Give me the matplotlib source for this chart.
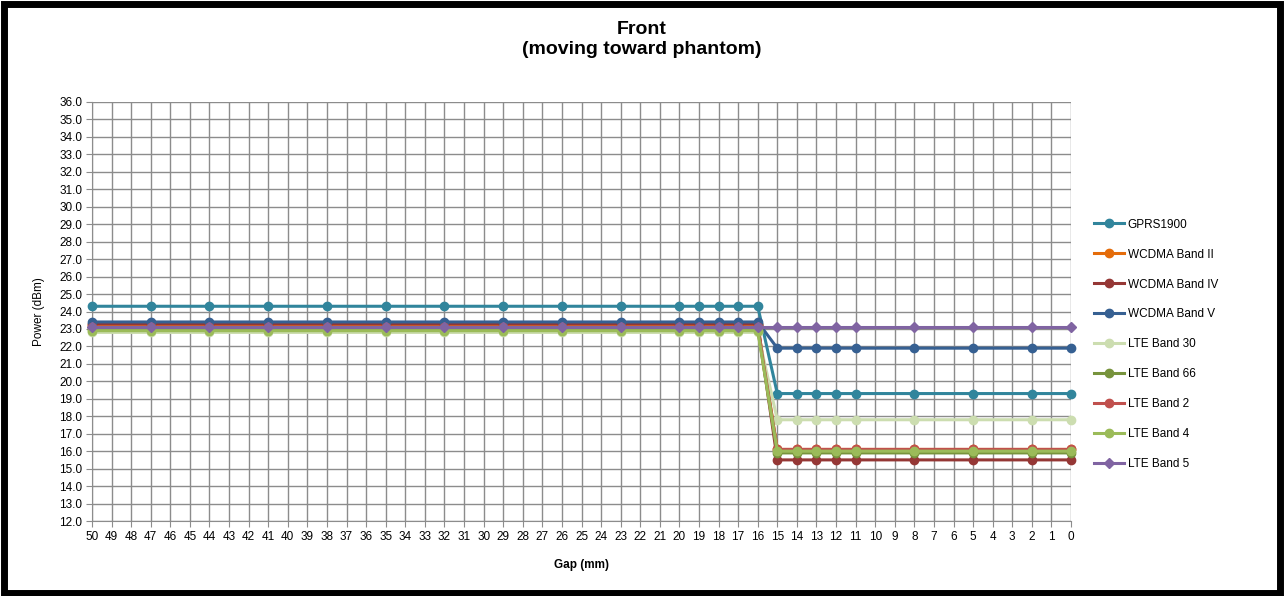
import matplotlib
matplotlib.use("Agg")
import matplotlib.pyplot as plt
from matplotlib.patches import Rectangle

plt.rcParams['font.family'] = ['Liberation Sans', 'DejaVu Sans']

# measured gaps (mm), the x axis runs 50 -> 0
gap_mm = [50, 47, 44, 41, 38, 35, 32, 29, 26, 23, 20, 19, 18, 17, 16,
          15, 14, 13, 12, 11, 8, 5, 2, 0]
axis_gaps = list(range(50, -1, -1))

series_names = ['GPRS1900', 'WCDMA Band II', 'WCDMA Band IV', 'WCDMA Band V',
                'LTE Band 30', 'LTE Band 66', 'LTE Band 2', 'LTE Band 4',
                'LTE Band 5']

gprs1900 = [24.3, 24.3, 24.3, 24.3, 24.3, 24.3, 24.3, 24.3, 24.3, 24.3, 24.3, 24.3,
            24.3, 24.3, 24.3, 19.3, 19.3, 19.3, 19.3, 19.3, 19.3, 19.3, 19.3, 19.3]
wcdma_b2 = [23.2, 23.2, 23.2, 23.2, 23.2, 23.2, 23.2, 23.2, 23.2, 23.2, 23.2, 23.2,
            23.2, 23.2, 23.2, 16.1, 16.1, 16.1, 16.1, 16.1, 16.1, 16.1, 16.1, 16.1]
wcdma_b4 = [23.3, 23.3, 23.3, 23.3, 23.3, 23.3, 23.3, 23.3, 23.3, 23.3, 23.3, 23.3,
            23.3, 23.3, 23.3, 15.5, 15.5, 15.5, 15.5, 15.5, 15.5, 15.5, 15.5, 15.5]
wcdma_b5 = [23.4, 23.4, 23.4, 23.4, 23.4, 23.4, 23.4, 23.4, 23.4, 23.4, 23.4, 23.4,
            23.4, 23.4, 23.4, 21.9, 21.9, 21.9, 21.9, 21.9, 21.9, 21.9, 21.9, 21.9]
lte_b30 = [22.8, 22.8, 22.8, 22.8, 22.8, 22.8, 22.8, 22.8, 22.8, 22.8, 22.8, 22.8,
           22.8, 22.8, 22.8, 17.8, 17.8, 17.8, 17.8, 17.8, 17.8, 17.8, 17.8, 17.8]
lte_b66 = [23.0, 23.0, 23.0, 23.0, 23.0, 23.0, 23.0, 23.0, 23.0, 23.0, 23.0, 23.0,
           23.0, 23.0, 23.0, 15.9, 15.9, 15.9, 15.9, 15.9, 15.9, 15.9, 15.9, 15.9]
lte_b2 = [23.1, 23.1, 23.1, 23.1, 23.1, 23.1, 23.1, 23.1, 23.1, 23.1, 23.1, 23.1,
          23.1, 23.1, 23.1, 16.1, 16.1, 16.1, 16.1, 16.1, 16.1, 16.1, 16.1, 16.1]
lte_b4 = [22.9, 22.9, 22.9, 22.9, 22.9, 22.9, 22.9, 22.9, 22.9, 22.9, 22.9, 22.9,
          22.9, 22.9, 22.9, 16.0, 16.0, 16.0, 16.0, 16.0, 16.0, 16.0, 16.0, 16.0]
lte_b5 = [23.1, 23.1, 23.1, 23.1, 23.1, 23.1, 23.1, 23.1, 23.1, 23.1, 23.1, 23.1,
          23.1, 23.1, 23.1, 23.1, 23.1, 23.1, 23.1, 23.1, 23.1, 23.1, 23.1, 23.1]

series_values = [gprs1900, wcdma_b2, wcdma_b4, wcdma_b5, lte_b30, lte_b66,
                 lte_b2, lte_b4, lte_b5]
colors = ['#31859C', '#E46C0A', '#953735', '#366092', '#CCDDB0', '#77933C',
          '#C0504D', '#9BBB59', '#8064A2']
markers = ['o', 'o', 'o', 'o', 'o', 'o', 'o', 'o', 'D']

fig = plt.figure(figsize=(12.84, 5.96), dpi=100)
ax = fig.add_axes([92 / 1284, 1 - 521 / 596, (1071 - 92) / 1284, (521 - 102) / 596])

for name, vals, c, m in zip(series_names, series_values, colors, markers):
    ax.plot(gap_mm, vals, color=c, lw=2.2, marker=m,
            ms=6 if m == 'o' else 5.5, label=name, clip_on=False, zorder=3)

ax.set_xlim(50, 0)
ax.set_ylim(12, 36)
ax.set_xticks(axis_gaps)
ax.set_xticklabels([str(g) for g in axis_gaps], fontsize=8.5)
ax.set_yticks(range(12, 37))
ax.set_yticklabels([f"{v:.1f}" for v in range(12, 37)], fontsize=8.5)
ax.grid(True, color='#8c8c8c', lw=1.0)
ax.set_axisbelow(True)
for side in ['top', 'right']:
    ax.spines[side].set_visible(False)
for side in ['left', 'bottom']:
    ax.spines[side].set_color('#8c8c8c')
ax.tick_params(axis='both', color='#8c8c8c', length=4, pad=3)

ax.set_xlabel('Gap (mm)', fontsize=8.5, fontweight='bold', labelpad=12)
ax.set_ylabel('Power (dBm)', fontsize=8.5, labelpad=10)

fig.suptitle('Front\n(moving toward phantom)', fontsize=14, fontweight='bold',
             y=0.965, linespacing=1.25)

fig.legend(loc='upper left', bbox_to_anchor=(1083 / 1284, 1 - 208 / 596),
           frameon=False, fontsize=8.5, handlelength=2.6, labelspacing=1.52,
           handletextpad=0.3)

fig.patches.append(Rectangle((0.003, 0.005), 0.994, 0.988, transform=fig.transFigure,
                             fill=False, ec='black', lw=5))

fig.savefig('out.png', dpi=100)
